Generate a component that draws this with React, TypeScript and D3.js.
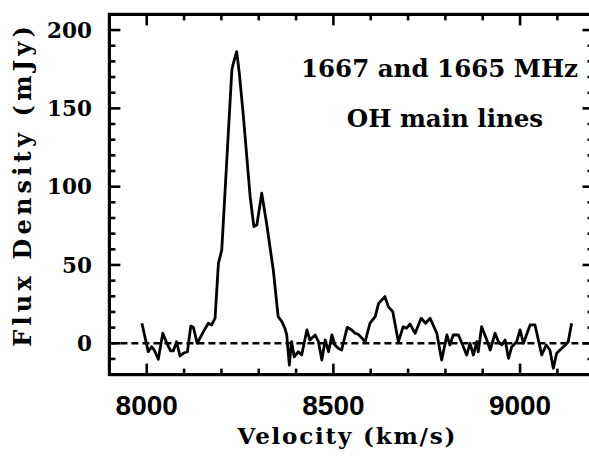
import React from "react";
import * as d3 from "d3";

const velocity = [
  7987, 8004, 8013, 8020, 8031, 8043, 8054, 8064, 8071, 8080, 8089, 8098, 8109, 8118, 8125,
  8135, 8152, 8165, 8174, 8183, 8192, 8201, 8228, 8232, 8241, 8248, 8259, 8277, 8287, 8295,
  8308, 8321, 8339, 8352, 8362, 8370, 8375, 8382, 8388, 8395, 8406, 8415, 8429, 8437, 8451,
  8460, 8469, 8478, 8487, 8496, 8504, 8513, 8522, 8537, 8549, 8558, 8567, 8585, 8598, 8612,
  8621, 8638, 8647, 8659, 8674, 8687, 8696, 8705, 8719, 8735, 8747, 8759, 8777, 8790, 8804,
  8812, 8821, 8835, 8848, 8857, 8866, 8875, 8884, 8888, 8897, 8911, 8920, 8933, 8942, 8951,
  8960, 8969, 8978, 8991, 9000, 9009, 9027, 9040, 9049, 9058, 9070, 9080, 9089, 9098, 9107,
  9121, 9129, 9138,
];
const flux = [
  12.8, -5.4, -2.2, -4.3, -10.2, 6.4, 0, -4.9, -4.9, 1, -8.1, -6.4, -5.4, 11, 10.2,
  0, 7.4, 12.8, 11.7, 16, 51, 59.6, 174.5, 178.8, 186.2, 172.4, 144.7, 93.6, 74.5, 75.5,
  95.8, 76.6, 46.8, 17, 13.8, 9.6, 5.3, -13.9, 1, -8.6, -5.4, -7.5, 8.5, 2.1, 5.3,
  1, -10.7, 2.1, -5.4, 5.3, -1.1, -3.2, -4.3, 10.2, 8.5, 6.4, 5.7, 1, 12.8, 17,
  25.5, 29.8, 23.4, 20.2, 1, 10.6, 9.6, 12.3, 6.4, 16, 12.8, 16, 6.4, -10.7, 5.3,
  -1.1, 5.3, 5.3, -2.2, -7.5, 0, -7.5, 1, -5.4, 10.6, 2.1, -4.3, 6.4, 1, -1.1,
  2.1, -9.6, -2.2, 1, 8.5, 0, 11.7, 11.7, 2.1, -7.5, -1.1, -4.3, -16, -6.4, -4.3,
  -1.1, 1, 12.8,
];
const xTicks = [8000, 8500, 9000];
const yTicks = [0, 50, 100, 150, 200];
const xLabel = "Velocity (km/s)";
const yLabel = "Flux Density (mJy)";
const note1 = "1667 and 1665 MHz";
const note2 = "OH main lines";

const W = 589, H = 470;
const L = 109.4, R = 593.5, T = 14.4, B = 374.6;
const PX_PER_KMS = 0.37333;

export default function App() {
  const x = d3.scaleLinear().domain([7900, 7900 + (R - L) / PX_PER_KMS]).range([L, R]);
  const y = d3.scaleLinear().domain([-20, 210]).range([B, T]);
  const pts = velocity.map((v, i) => [v, flux[i]] as [number, number]);
  const line = d3.line<[number, number]>().x(d => x(d[0])).y(d => y(d[1]));
  const xMinor = d3.range(7900, 9200, 100);
  const yMinor = d3.range(-20, 211, 10);
  const serif = "'DejaVu Serif', serif";
  return (
    <svg width={W} height={H} viewBox={`0 0 ${W} ${H}`} overflow="hidden"
      style={{ position: "absolute", left: 0, top: 0, background: "#fff", overflow: "hidden" }}>
      <defs>
        <clipPath id="page"><rect x={0} y={0} width={W} height={H} /></clipPath>
      </defs>
      <g stroke="#000" strokeWidth={2.6} fill="none" clipPath="url(#page)">
        {xMinor.map(v => {
          const major = v % 500 === 0;
          const len = major ? 11 : 6;
          return (
            <g key={"x" + v}>
              <line x1={x(v)} x2={x(v)} y1={B} y2={B - len} />
              <line x1={x(v)} x2={x(v)} y1={T} y2={T + len} />
            </g>
          );
        })}
        {yMinor.map(v => {
          const major = v % 50 === 0;
          const len = major ? 11 : 6;
          return (
            <g key={"y" + v}>
              <line x1={L} x2={L + len} y1={y(v)} y2={y(v)} />
              <line x1={R} x2={R - len} y1={y(v)} y2={y(v)} />
            </g>
          );
        })}
        <line x1={L} x2={R} y1={y(0)} y2={y(0)} strokeDasharray="7,4" strokeWidth={2.4} />
        <path d={line(pts) || ""} strokeWidth={2.8} strokeLinejoin="round" />
        <rect x={L} y={T} width={R - L} height={B - T} strokeWidth={3.2} />
      </g>
      <g fontFamily={serif} fontWeight="bold" fill="#000">
        {yTicks.map(v => (
          <text key={v} x={92} y={y(v)} dy="0.36em" textAnchor="end" fontSize={21.5}>{v}</text>
        ))}
        <text transform={`translate(31,186.5) rotate(-90)`} dx={2.1} textAnchor="middle" fontSize={24} letterSpacing={4.2}>{yLabel}</text>
        <text x={346.5} dx={0.9} y={444} textAnchor="middle" fontSize={23} letterSpacing={1.8}>{xLabel}</text>
        <text x={439.5} y={77} textAnchor="middle" fontSize={24.5}>{note1}</text>
        <text x={445} y={127} textAnchor="middle" fontSize={24.5}>{note2}</text>
      </g>
      <g fontFamily="'Liberation Sans', sans-serif" fontWeight="bold" fill="#000">
        {xTicks.map(v => (
          <text key={v} x={x(v)} y={415} textAnchor="middle" fontSize={28}>{v}</text>
        ))}
      </g>
    </svg>
  );
}
